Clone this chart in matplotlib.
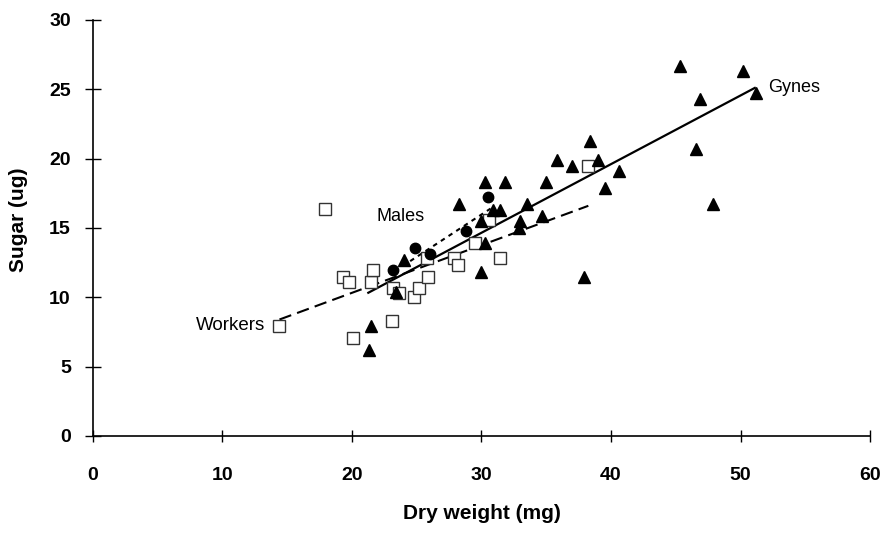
import numpy as np
import matplotlib
matplotlib.use("Agg")
import matplotlib.pyplot as plt

plt.rcParams['font.family'] = ['Liberation Sans', 'DejaVu Sans']

# workers (open squares)
workers_x = [14.4, 17.9, 19.3, 19.8, 20.1, 21.5, 21.6, 23.1, 23.2, 23.6,
             24.8, 25.2, 25.8, 25.9, 27.9, 28.2, 29.5, 30.6, 31.4, 38.2]
workers_y = [7.9, 16.4, 11.5, 11.1, 7.1, 11.1, 12.0, 8.3, 10.7, 10.3,
             10.0, 10.7, 12.8, 11.5, 12.8, 12.3, 13.9, 15.6, 12.8, 19.5]

# gynes (filled triangles)
gynes_x = [21.3, 21.5, 23.4, 24.0, 28.3, 30.0, 30.3, 30.0, 30.3, 30.9,
           31.4, 31.8, 32.9, 33.0, 33.5, 34.7, 35.0, 35.8, 37.0, 37.9,
           38.4, 39.0, 39.5, 40.6, 45.3, 46.6, 46.9, 47.9, 50.2, 51.2]
gynes_y = [6.2, 7.9, 10.4, 12.7, 16.75, 11.8, 13.9, 15.5, 18.3, 16.3,
           16.3, 18.3, 15.0, 15.5, 16.7, 15.9, 18.3, 19.9, 19.5, 11.5,
           21.3, 19.9, 17.9, 19.1, 26.7, 20.7, 24.3, 16.7, 26.3, 24.7]

# males (filled circles)
males_x = [23.2, 24.9, 26.0, 28.8, 30.5]
males_y = [12.0, 13.55, 13.1, 14.8, 17.2]

# regression lines (end points)
gynes_line_x = [21.26, 51.1]
gynes_line_y = [10.33, 25.1]
workers_line_x = [14.4, 38.25]
workers_line_y = [8.4, 16.6]
males_line_x = [23.9, 30.7]
males_line_y = [12.25, 16.4]

fig = plt.figure(figsize=(8.83, 5.33), dpi=100)
ax = fig.add_axes([0.1053, 0.182, 0.88, 0.7805])

ax.plot(workers_line_x, workers_line_y, color='black', lw=1.5,
        linestyle=(0, (6, 3)), zorder=2)
ax.plot(males_line_x, males_line_y, color='black', lw=1.5,
        linestyle=(0, (2.2, 2.2)), zorder=2)
ax.plot(gynes_line_x, gynes_line_y, color='black', lw=1.6, zorder=2)

ax.plot(workers_x, workers_y, 's', ms=8, mfc='white', mec='#333333',
        mew=1.0, zorder=3)
ax.plot(gynes_x, gynes_y, '^', ms=8.5, color='black', zorder=4)
ax.plot(males_x, males_y, 'o', ms=7.5, color='black', zorder=4)

ax.text(13.3, 8.0, 'Workers', fontsize=13.5, ha='right', va='center')
ax.text(21.9, 15.8, 'Males', fontsize=13, ha='left', va='center')
ax.text(52.1, 25.1, 'Gynes', fontsize=13, ha='left', va='center')

ax.set_xlim(0, 60)
ax.set_ylim(0, 30)
ax.set_xticks(np.arange(0, 61, 10))
ax.set_yticks(np.arange(0, 31, 5))

for s in ['top', 'right']:
    ax.spines[s].set_visible(False)
for s in ['left', 'bottom']:
    ax.spines[s].set_linewidth(1.2)

ax.tick_params(axis='y', direction='inout', length=12, width=1.0, pad=10)
ax.tick_params(axis='x', direction='inout', length=9, width=1.0, pad=18)
for lab in ax.get_xticklabels() + ax.get_yticklabels():
    lab.set_fontweight('bold')
    lab.set_fontsize(14)

ax.set_xlabel('Dry weight (mg)', fontsize=15, fontweight='bold', labelpad=14)
ax.set_ylabel('Sugar (ug)', fontsize=15, fontweight='bold')
ax.yaxis.set_label_coords(-0.084, 0.52)

fig.savefig('out.png', dpi=100)
